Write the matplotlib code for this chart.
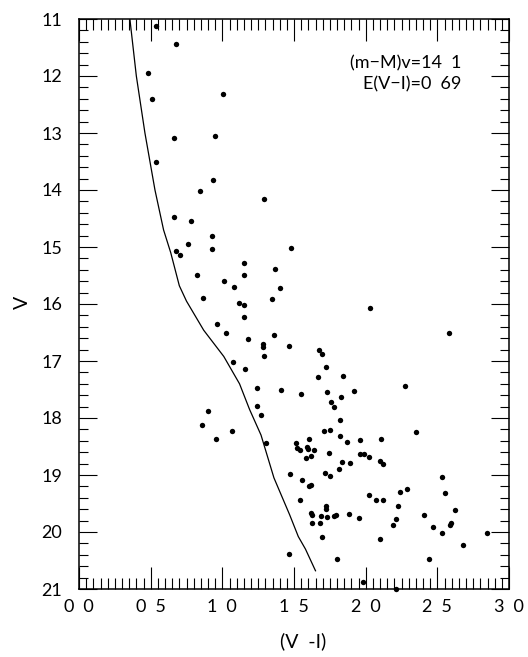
import matplotlib
matplotlib.use("Agg")
import matplotlib.pyplot as plt
from matplotlib.ticker import MultipleLocator, FixedLocator, FixedFormatter

# Cluster photometry: colour (V-I) and magnitude V
vi = [0.536, 0.680, 0.484, 0.512, 1.006, 0.666, 0.952, 0.538, 0.934, 0.845,
      1.294, 0.666, 0.784, 0.927, 0.759, 1.480, 0.675, 0.703, 0.931, 1.148,
      1.364, 1.152, 0.826, 1.013, 1.078, 1.404, 0.866, 1.348, 1.113, 1.148,
      2.027, 1.152, 0.961, 2.584, 1.024, 1.359, 1.176, 1.287, 1.287, 1.467,
      1.674, 1.697, 1.292, 1.071, 1.722, 1.159, 1.667, 1.841, 2.272, 1.241,
      1.406, 1.552, 1.732, 1.916, 1.830, 1.755, 1.776, 1.241, 0.899, 1.271,
      1.818, 0.861, 1.064, 0.959, 2.353, 1.706, 1.753, 1.306, 1.515, 1.602,
      1.823, 1.869, 1.962, 2.107, 1.524, 1.543, 1.590, 1.597, 1.643, 1.585,
      1.620, 1.746, 1.957, 1.986, 2.021, 1.834, 1.893, 2.102, 2.121, 1.816,
      1.718, 1.753, 1.473, 1.555, 2.533, 1.604, 1.620, 1.545, 2.021, 2.074,
      2.118, 2.243, 2.285, 2.556, 2.228, 1.722, 1.722, 1.620, 1.629, 1.688,
      1.730, 1.778, 1.792, 1.885, 1.950, 1.629, 1.681, 1.695, 2.214, 2.193,
      2.102, 2.404, 2.626, 2.473, 2.591, 2.598, 2.530, 2.677, 2.847, 1.467,
      1.799, 2.439, 1.981, 2.211]
vmag = [11.12, 11.44, 11.94, 12.40, 12.32, 13.09, 13.06, 13.51, 13.83, 14.02,
        14.16, 14.47, 14.55, 14.80, 14.95, 15.02, 15.07, 15.14, 15.04, 15.28,
        15.39, 15.49, 15.49, 15.60, 15.70, 15.72, 15.89, 15.92, 15.98, 16.02,
        16.07, 16.23, 16.35, 16.50, 16.51, 16.54, 16.62, 16.71, 16.76, 16.73,
        16.81, 16.88, 16.91, 17.01, 17.11, 17.14, 17.28, 17.26, 17.44, 17.47,
        17.51, 17.58, 17.54, 17.53, 17.63, 17.72, 17.81, 17.79, 17.88, 17.95,
        18.04, 18.13, 18.22, 18.36, 18.25, 18.23, 18.21, 18.43, 18.44, 18.37,
        18.31, 18.42, 18.39, 18.36, 18.53, 18.56, 18.50, 18.54, 18.56, 18.70,
        18.67, 18.61, 18.63, 18.64, 18.68, 18.77, 18.79, 18.75, 18.80, 18.89,
        18.97, 19.01, 18.99, 19.09, 19.03, 19.19, 19.17, 19.44, 19.35, 19.44,
        19.44, 19.29, 19.25, 19.32, 19.54, 19.54, 19.60, 19.67, 19.70, 19.72,
        19.74, 19.72, 19.70, 19.68, 19.76, 19.85, 19.84, 20.08, 19.78, 19.87,
        20.12, 19.71, 19.61, 19.91, 19.87, 19.84, 20.02, 20.23, 20.02, 20.39,
        20.47, 20.47, 20.87, 21.00]

# Fitted isochrone
iso_vi = [0.355, 0.40, 0.46, 0.53, 0.59, 0.64, 0.70, 0.75, 0.87, 1.01,
          1.12, 1.19, 1.27, 1.36, 1.47, 1.53, 1.58, 1.65]
iso_v = [11.0, 12.0, 13.0, 14.0, 14.7, 15.1, 15.68, 15.95, 16.46, 16.92,
         17.40, 17.85, 18.30, 19.05, 19.70, 20.08, 20.30, 20.68]

x_ticks = [0.0, 0.5, 1.0, 1.5, 2.0, 2.5, 3.0]
x_tick_labels = ["0\u20020", "0\u20025", "1\u20020", "1\u20025", "2\u20020", "2\u20025", "3\u20020"]
y_ticks = [11, 12, 13, 14, 15, 16, 17, 18, 19, 20, 21]
y_tick_labels = [str(v) for v in y_ticks]

plt.rcParams["font.family"] = ["Lato", "DejaVu Sans"]

W, H = 528, 657
fig = plt.figure(figsize=(W / 100, H / 100), dpi=100)
ax = fig.add_axes([79 / W, 1 - 589 / H, 430 / W, 570 / H])

ax.plot(iso_vi, iso_v, color="black", lw=0.9)
ax.scatter(vi, vmag, s=15, color="black", linewidths=0, zorder=3, clip_on=False)

ax.set_xlim(0, 3.0)
ax.set_ylim(21, 11)

ax.xaxis.set_major_locator(FixedLocator(x_ticks))
ax.xaxis.set_major_formatter(FixedFormatter(x_tick_labels))
ax.xaxis.set_minor_locator(MultipleLocator(0.05))
ax.yaxis.set_major_locator(FixedLocator(y_ticks))
ax.yaxis.set_major_formatter(FixedFormatter(y_tick_labels))
ax.yaxis.set_minor_locator(MultipleLocator(0.2))

ax.tick_params(which="both", direction="in", top=True, right=True,
               colors="black", width=0.8)
ax.tick_params(axis="x", which="major", length=16, pad=7, labelsize=13)
ax.tick_params(axis="x", which="minor", length=8)
ax.tick_params(axis="y", which="major", length=13, pad=12, labelsize=13)
ax.tick_params(axis="y", which="minor", length=6.5)

for sp in ax.spines.values():
    sp.set_linewidth(1.1)

fig.text(22 / W, 1 - 302 / H, "V", rotation=90, ha="center", va="center", fontsize=14)
fig.text(303 / W, 1 - 641 / H, "(V\u2002-I)", ha="center", va="center", fontsize=14)

ax.text(461 / W, 1 - 63 / H, "(m\u2212M)v=14\u20021", transform=fig.transFigure,
        ha="right", va="center", fontsize=13)
ax.text(461 / W, 1 - 84 / H, "E(V\u2212I)=0\u200269", transform=fig.transFigure,
        ha="right", va="center", fontsize=13)

fig.savefig("out.png", dpi=100)
